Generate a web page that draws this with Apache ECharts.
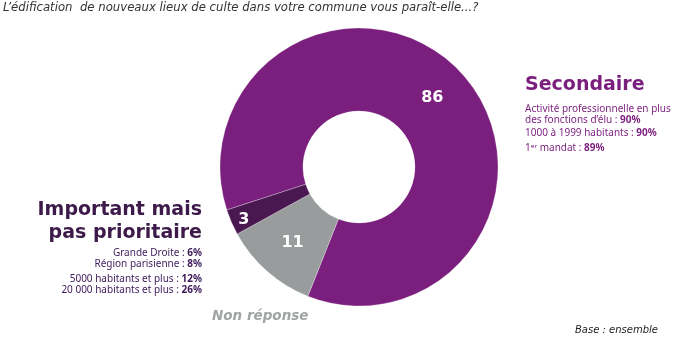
<!DOCTYPE html>
<html>
<head>
<meta charset="utf-8">
<script src="https://cdn.jsdelivr.net/npm/echarts@6/dist/echarts.min.js"></script>
<style>html,body{margin:0;padding:0;background:#fff;}#c{width:683px;height:363px;}</style>
</head>
<body>
<div id="c"></div>
<script>
var categories = ['Secondaire', 'Non réponse', 'Important mais pas prioritaire'];
var values = [86, 11, 3];
var colors = ['#7b1f7e', '#989c9c', '#4a1850'];
var titleText = "L\u2019édification  de nouveaux lieux de culte dans votre commune vous paraît-elle...?";
var secondaireDetails = [
  ['Activité professionnelle en plus', ''],
  ['des fonctions d\u2019élu : ', '90%'],
  ['1000 à 1999 habitants : ', '90%'],
  ['1\u1d49\u02b3 mandat : ', '89%']
];
var importantDetails = [
  ['Grande Droite : ', '6%'],
  ['Région parisienne : ', '8%'],
  ['5000 habitants et plus : ', '12%'],
  ['20 000 habitants et plus : ', '26%']
];
var detailY1 = [110, 121, 134, 149];
var detailY2 = [254, 265, 280, 291];

var chart = echarts.init(document.getElementById('c'));
var dv = '"DejaVu Sans", Verdana, sans-serif';
var narrow = '"Noto Sans", "Liberation Sans", sans-serif';

var graphics = [
  {type:'text', left:3, top:2, style:{text:titleText, font:'italic 11.7px ' + dv, fill:'#333'}},
  {type:'text', left:525, top:76, style:{text:'Secondaire', font:'bold 19px ' + dv, fill:'#7b1f7e'}},
  {type:'text', right:481, top:201, style:{text:'Important mais', font:'bold 19px ' + dv, fill:'#3d1a4a', align:'right'}},
  {type:'text', right:481, top:224, style:{text:'pas prioritaire', font:'bold 19px ' + dv, fill:'#3d1a4a', align:'right'}},
  {type:'text', left:212, top:309, style:{text:'Non réponse', font:'italic bold 13.5px ' + dv, fill:'#a0a4a4'}},
  {type:'text', left:575, top:325, style:{text:'Base : ensemble', font:'italic 10px ' + dv, fill:'#222'}}
];
secondaireDetails.forEach(function(d, i){
  graphics.push({type:'text', left:525, top:detailY1[i]-6, style:{
    text: '{n|' + d[0] + '}' + (d[1] ? '{b|' + d[1] + '}' : ''),
    rich:{n:{font:'10px ' + narrow, fill:'#7b1f7e'}, b:{font:'bold 10px ' + narrow, fill:'#7b1f7e'}}
  }});
});
importantDetails.forEach(function(d, i){
  graphics.push({type:'text', right:481, top:detailY2[i]-6, style:{
    text: '{n|' + d[0] + '}{b|' + d[1] + '}', align:'right',
    rich:{n:{font:'10px ' + narrow, fill:'#3d1a5a'}, b:{font:'bold 10px ' + narrow, fill:'#3d1a5a'}}
  }});
});

chart.setOption({
  animation:false,
  graphic: graphics,
  series:[{
    type:'pie',
    center:[359, 167],
    radius:[56, 139],
    startAngle:198,
    clockwise:true,
    avoidLabelOverlap:false,
    label:{show:true, position:'inside', formatter:'{c}', color:'#fff', fontWeight:'bold', fontSize:16, fontFamily:dv},
    labelLine:{show:false},
    itemStyle:{borderColor:'rgba(255,255,255,0.35)', borderWidth:0.8},
    emphasis:{disabled:true},
    data: categories.map(function(c, i){
      var item = {name:c, value:values[i], itemStyle:{color:colors[i]}};
      if (i === 2) item.label = {formatter:'\n{c}', lineHeight:26, padding:[0, 46, 0, 0]};
      return item;
    })
  }]
});
</script>
</body>
</html>
